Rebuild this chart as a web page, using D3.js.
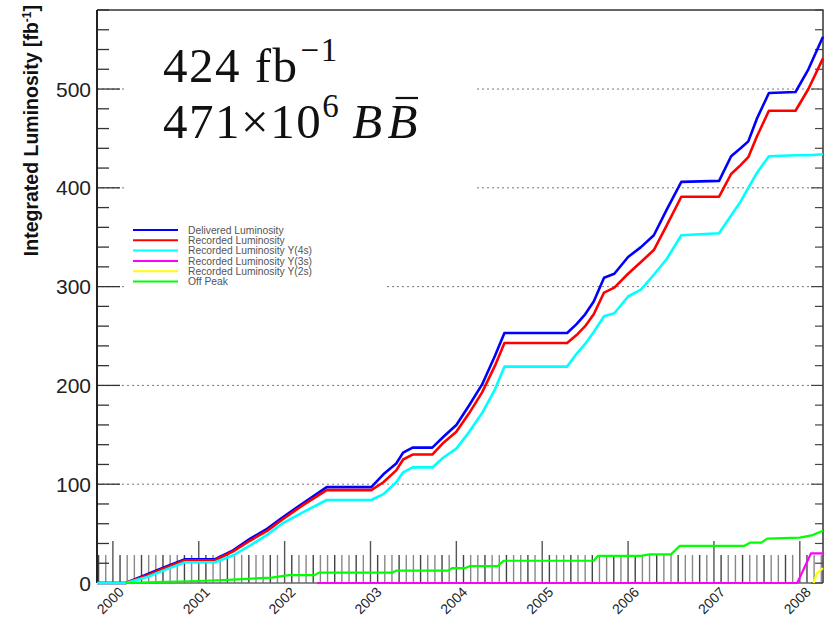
<!DOCTYPE html>
<html>
<head>
<meta charset="utf-8">
<script src="https://cdn.jsdelivr.net/npm/d3@7"></script>
<style>
body { margin: 0; background: #fff; }
svg { display: block; }
</style>
</head>
<body>
<div id="chart"></div>
<script>
// time in fractional years, luminosity in fb^-1
const years = [1999.815, 2000.15, 2000.4, 2000.6, 2000.84, 2001.19, 2001.4, 2001.6, 2001.8, 2001.97,
  2002.2, 2002.49, 2003.01, 2003.15, 2003.3, 2003.38, 2003.49, 2003.72, 2003.85, 2004.0,
  2004.15, 2004.3, 2004.45, 2004.56, 2005.29, 2005.4, 2005.5, 2005.6, 2005.72, 2005.84,
  2006.0, 2006.15, 2006.3, 2006.45, 2006.62, 2007.06, 2007.2, 2007.31, 2007.4, 2007.5,
  2007.64, 2007.95, 2008.1, 2008.27];
const delivered = [0, 0, 9, 16, 24, 24, 33, 45, 55, 66,
  80, 97, 97, 110, 121, 132, 137, 137, 148, 160,
  180, 201, 230, 253, 253, 262, 272, 285, 309, 313,
  330, 340, 352, 378, 406, 407, 432, 440, 447, 470,
  496, 497, 520, 553];
const recorded = [0, 0, 8, 15, 23, 23, 32, 43, 53, 64,
  78, 94, 94, 102, 114, 125, 130, 130, 142, 153,
  172, 193, 220, 243, 243, 251, 260, 272, 294, 299,
  313, 325, 337, 362, 391, 391, 414, 423, 431, 452,
  478, 478, 500, 531];
const recorded4s = [0, 0, 6, 13, 21, 21, 28, 38, 49, 60,
  71, 84, 84, 90, 102, 112, 117, 117, 127, 136,
  153, 172, 196, 219, 219, 232, 242, 254, 270, 273,
  290, 297, 312, 328, 352, 354, 372, 386, 400, 415,
  432, 433, 433, 434];
const recorded3sYears = [2002.38, 2007.97, 2008.13, 2008.27];
const recorded3s = [0, 0, 30, 30];
const recorded2sYears = [2008.16, 2008.2, 2008.27];
const recorded2s = [0, 10, 15];
const offPeakYears = [2000.15, 2000.5, 2001.0, 2001.4, 2001.85, 2002.05, 2002.35, 2002.4, 2003.25, 2003.3,
  2003.9, 2003.95, 2004.1, 2004.15, 2004.48, 2004.55, 2005.6, 2005.65, 2006.15, 2006.25,
  2006.5, 2006.6, 2007.35, 2007.42, 2007.55, 2007.62, 2008.0, 2008.15, 2008.27];
const offPeak = [0, 1, 2, 3.5, 5.5, 8, 8, 10.5, 10.5, 12.5,
  12.5, 15, 15, 17, 17, 22.5, 22.5, 27.5, 27.5, 29,
  29, 37.5, 37.5, 40.8, 40.8, 45, 46, 48.5, 53];
const yearTicks = [2000, 2001, 2002, 2003, 2004, 2005, 2006, 2007, 2008];
const yTickLabels = [0, 100, 200, 300, 400, 500];
const legendLabels = ['Delivered Luminosity', 'Recorded Luminosity', 'Recorded Luminosity Y(4s)',
  'Recorded Luminosity Y(3s)', 'Recorded Luminosity Y(2s)', 'Off Peak'];
const legendColors = ['#0000ff', '#ff0000', '#00ffff', '#ff00ff', '#ffff00', '#00ff00'];

class LumiChart {
  constructor(_svgTag) {
    this.config = {
      width: 831,
      height: 620,
      left: 97,
      right: 823,
      top: 10,
      bottom: 583
    };
    this.svgTag = _svgTag;
    this.initVis();
    this.renderVis();
  }

  initVis() {
    let vis = this;
    let c = vis.config;
    vis.svg = d3.select(vis.svgTag)
      .append('svg')
      .attr('width', c.width)
      .attr('height', c.height)
      .style('font-family', 'Liberation Sans, Arial, sans-serif');

    vis.x = d3.scaleLinear().domain([1999.815, 2008.27]).range([c.left, c.right]);
    vis.y = d3.scaleLinear().domain([0, 580]).range([c.bottom, c.top]);

    // dotted grid
    vis.svg.append('g')
      .selectAll('line')
      .data(yTickLabels.filter(d => d > 0))
      .join('line')
      .attr('x1', c.left).attr('x2', c.right)
      .attr('y1', d => vis.y(d)).attr('y2', d => vis.y(d))
      .attr('stroke', '#777')
      .attr('stroke-width', 1)
      .attr('stroke-dasharray', '2,3');

    // white boxes pasted over the grid behind the annotation and legend
    vis.svg.append('rect').attr('x', 124).attr('y', 14).attr('width', 351).attr('height', 182).attr('fill', '#fff');
    vis.svg.append('rect').attr('x', 124).attr('y', 196).attr('width', 261).attr('height', 104).attr('fill', '#fff');

    // monthly ticks along the bottom
    let months = d3.range(0, 102).map(i => 1999 + 10 / 12 + i / 12).filter(t => t <= 2008.27);
    vis.svg.append('g')
      .selectAll('line')
      .data(months)
      .join('line')
      .attr('x1', d => vis.x(d)).attr('x2', d => vis.x(d))
      .attr('y1', c.bottom)
      .attr('y2', d => Math.abs(d - Math.round(d)) < 0.01 ? c.bottom - 42 : c.bottom - 28)
      .attr('stroke', (d, i) => Math.abs(d - Math.round(d)) < 0.01 ? '#555' : (i % 3 === 0 ? '#444' : '#888'))
      .attr('stroke-width', 1.4);

    // frame
    vis.svg.append('path')
      .attr('d', `M${c.left},${c.top}H${c.right}V${c.bottom}`)
      .attr('fill', 'none').attr('stroke', '#333').attr('stroke-width', 1.5);
    vis.svg.append('line')
      .attr('x1', c.left).attr('x2', c.right).attr('y1', c.bottom).attr('y2', c.bottom)
      .attr('stroke', '#666').attr('stroke-width', 1.5);

    // left axis, ticks pointing inwards
    let yTicks = d3.range(0, 581, 20);
    vis.svg.append('g')
      .selectAll('line')
      .data(yTicks)
      .join('line')
      .attr('x1', c.left).attr('x2', d => c.left + (d % 100 === 0 ? 23 : 12))
      .attr('y1', d => vis.y(d)).attr('y2', d => vis.y(d))
      .attr('stroke', '#333').attr('stroke-width', 1.3);
    vis.svg.append('g')
      .selectAll('line')
      .data(yTicks)
      .join('line')
      .attr('x1', c.right).attr('x2', d => c.right - (d % 100 === 0 ? 12 : 8))
      .attr('y1', d => vis.y(d)).attr('y2', d => vis.y(d))
      .attr('stroke', '#444').attr('stroke-width', 1.2);
    vis.svg.append('line')
      .attr('x1', c.left).attr('x2', c.left).attr('y1', c.top).attr('y2', c.bottom)
      .attr('stroke', '#222').attr('stroke-width', 2);

    vis.svg.append('g')
      .selectAll('text')
      .data(yTickLabels)
      .join('text')
      .attr('x', 91)
      .attr('y', d => vis.y(d))
      .attr('dy', '0.36em')
      .attr('text-anchor', 'end')
      .style('font-size', '21px')
      .style('fill', '#222')
      .text(d => d);

    vis.svg.append('g')
      .selectAll('text')
      .data(yearTicks)
      .join('text')
      .attr('text-anchor', 'end')
      .attr('transform', d => `translate(${vis.x(d) + 12}, ${c.bottom + 10}) rotate(-45)`)
      .style('font-size', '14px')
      .style('fill', '#222')
      .text(d => d);

    let title = vis.svg.append('text')
      .attr('text-anchor', 'end')
      .attr('transform', 'translate(38, 5) rotate(-90)')
      .style('font-size', '19.5px')
      .style('font-weight', 'bold')
      .style('fill', '#111');
    title.append('tspan').text('Integrated Luminosity [fb');
    title.append('tspan').attr('dy', -7).style('font-size', '12px').text('-1');
    title.append('tspan').attr('dy', 7).text(']');
  }

  renderVis() {
    let vis = this;
    let line = d3.line().x(d => vis.x(d[0])).y(d => vis.y(d[1]));
    let series = [
      { values: d3.zip(years, delivered), color: legendColors[0], w: 2.6 },
      { values: d3.zip(years, recorded), color: legendColors[1], w: 2.6 },
      { values: d3.zip(years, recorded4s), color: legendColors[2], w: 2.6 },
      { values: d3.zip(recorded3sYears, recorded3s), color: legendColors[3], w: 2.2 },
      { values: d3.zip(recorded2sYears, recorded2s), color: legendColors[4], w: 2.2 },
      { values: d3.zip(offPeakYears, offPeak), color: legendColors[5], w: 2.2 }
    ];
    vis.svg.append('g')
      .selectAll('path')
      .data(series)
      .join('path')
      .attr('d', d => line(d.values))
      .attr('fill', 'none')
      .attr('stroke', d => d.color)
      .attr('stroke-width', d => d.w)
      .attr('stroke-linejoin', 'round');

    // legend
    let legend = vis.svg.append('g').attr('transform', 'translate(133, 230)');
    let rows = legend.selectAll('g')
      .data(legendLabels)
      .join('g')
      .attr('transform', (d, i) => `translate(0, ${i * 10.3})`);
    rows.append('line')
      .attr('x1', 0).attr('x2', 45)
      .attr('stroke', (d, i) => legendColors[i])
      .attr('stroke-width', 2);
    rows.append('text')
      .attr('x', 55)
      .attr('dy', '0.36em')
      .style('font-size', '10.3px')
      .style('fill', '#555')
      .text(d => d);

    // annotation
    let ann = vis.svg.append('g')
      .style('font-family', 'Liberation Serif, Times New Roman, serif')
      .style('fill', '#111');
    let l1 = ann.append('text').attr('x', 163).attr('y', 82)
      .style('font-size', '49px').style('letter-spacing', '1.5px');
    l1.append('tspan').text('424 fb');
    l1.append('tspan').attr('dx', 2).attr('dy', -21).style('font-size', '33px').text('\u22121');
    let l2 = ann.append('text').attr('x', 163).attr('y', 138)
      .style('font-size', '49px').style('letter-spacing', '1.5px');
    l2.append('tspan').text('471\u00d710');
    l2.append('tspan').attr('dy', -21).style('font-size', '33px').text('6');
    l2.append('tspan').attr('dx', 12).attr('dy', 21).style('font-style', 'italic').text('B');
    l2.append('tspan').attr('dx', 4).style('font-style', 'italic').text('B');
    // bar over the second B
    let txt = l2.node();
    let n = txt.getNumberOfChars();
    let box = txt.getExtentOfChar(n - 1);
    ann.append('line')
      .attr('x1', box.x + 8).attr('x2', box.x + box.width - 1)
      .attr('y1', 138 - 40).attr('y2', 138 - 40)
      .attr('stroke', '#111').attr('stroke-width', 2.2);
  }
}

new LumiChart('#chart');
</script>
</body>
</html>
